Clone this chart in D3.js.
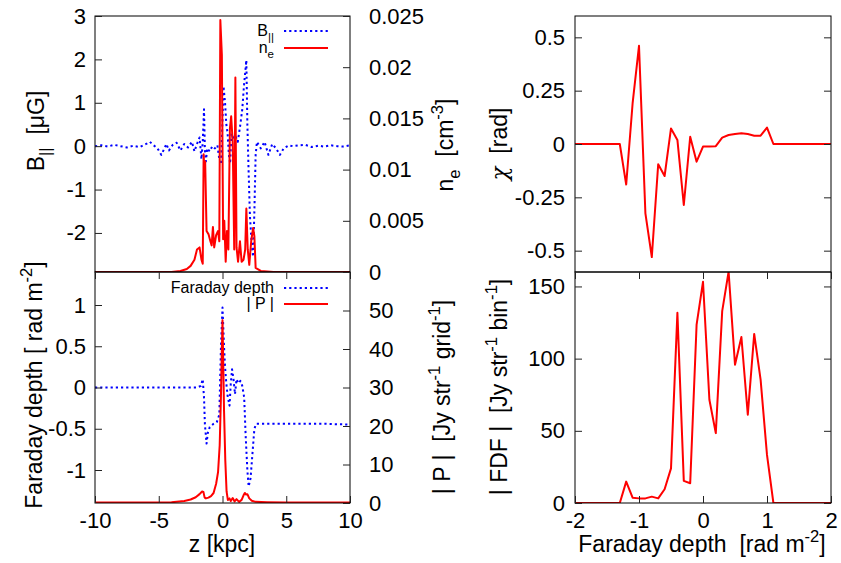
<!DOCTYPE html>
<html>
<head>
<meta charset="utf-8">
<script src="https://cdn.jsdelivr.net/npm/d3@7"></script>
<style>
  body { margin: 0; background: #fff; }
  text { font-family: "Liberation Sans", Arial, Helvetica, sans-serif; fill: #000; }
</style>
</head>
<body>
<script>
// ---- data ----
// top left: B_parallel [uG] and n_e [cm^-3] versus z [kpc]
const bParData = [
  [-10, 0], [-9.5, 0.02], [-9, -0.01], [-8.5, 0.03], [-8, 0], [-7.5, -0.03], [-7, 0.01], [-6.5, -0.02],
  [-6, 0.05], [-5.7, 0.1], [-5.4, 0.02], [-5.1, -0.05], [-4.8, -0.2], [-4.6, -0.08], [-4.4, 0.05],
  [-4.2, -0.1], [-3.9, 0.03], [-3.6, 0.08], [-3.3, -0.1], [-3.0, 0.05], [-2.7, -0.03], [-2.4, 0.1],
  [-2.2, -0.12], [-2.0, 0.05], [-1.8, 0.2], [-1.65, -0.3], [-1.55, 0.1], [-1.45, 0.85], [-1.38, -0.1],
  [-1.3, -0.35], [-1.2, -0.05], [-1.0, -0.12], [-0.8, 0.0], [-0.6, -0.05], [-0.4, 0.02], [-0.25, -0.3],
  [-0.12, -0.42], [0.0, 0.6], [0.08, 1.38], [0.2, 1.0], [0.3, 0.5], [0.4, 0.3], [0.5, -0.2], [0.6, -0.4],
  [0.7, 0.3], [0.85, 0.15], [1.0, 0.25], [1.2, 0.1], [1.4, 0.5], [1.55, 0.85], [1.7, 1.45], [1.87, 1.98],
  [1.95, 0.5], [2.05, -0.6], [2.15, -1.6], [2.3, -2.3], [2.4, -2.55], [2.5, -1.5], [2.6, -0.2],
  [2.7, 0.1], [3.0, -0.05], [3.3, 0.1], [3.6, -0.2], [3.9, 0.05], [4.2, -0.05], [4.5, -0.2], [4.8, -0.05],
  [5.2, 0.02], [5.5, 0.0], [6, 0.02], [6.5, 0.03], [7, -0.02], [7.5, 0.01], [8, -0.01], [8.5, 0.02],
  [9, 0], [9.5, -0.01], [10, 0.02]
];
const neData = [
  [-10, 0], [-4, 0], [-3.3, 0.0001], [-2.8, 0.0003], [-2.5, 0.0006], [-2.2, 0.0012], [-2.0, 0.0022],
  [-1.8, 0.0024], [-1.65, 0.0012], [-1.55, 0.0008], [-1.48, 0.0115], [-1.42, 0.0098], [-1.36, 0.0108],
  [-1.25, 0.0040], [-1.1, 0.0037], [-0.95, 0.0030], [-0.85, 0.0026], [-0.75, 0.0044], [-0.65, 0.0024],
  [-0.5, 0.0036], [-0.35, 0.0040], [-0.25, 0.0030], [-0.17, 0.0246], [-0.05, 0.0212], [0.05, 0.0032],
  [0.14, 0.0050], [0.25, 0.0010], [0.35, 0.0040], [0.46, 0.0022], [0.58, 0.0140], [0.68, 0.0152],
  [0.8, 0.0127], [0.92, 0.0022], [1.01, 0.0190], [1.1, 0.0024], [1.22, 0.0010], [1.37, 0.0030],
  [1.5, 0.0010], [1.65, 0.0012], [1.78, 0.0022], [1.87, 0.0062], [1.98, 0.0022], [2.1, 0.0007],
  [2.25, 0.0030], [2.4, 0.0043], [2.5, 0.0035], [2.6, 0.0004], [3, 0.0001], [4, 0], [10, 0]
];
// bottom left: Faraday depth [rad m^-2] and |P| versus z
const fdData = [
  [-10, 0], [-2.0, 0], [-1.7, 0.02], [-1.55, 0.1], [-1.45, -0.12], [-1.38, -0.45], [-1.25, -0.68],
  [-1.15, -0.55], [-1.0, -0.48], [-0.7, -0.44], [-0.45, -0.42], [-0.25, -0.33], [-0.12, 0.5],
  [0.0, 0.97], [0.12, 0.5], [0.2, 0.25], [0.3, 0.05], [0.4, -0.1], [0.55, -0.22], [0.65, 0.05],
  [0.75, 0.22], [0.85, 0.12], [0.98, -0.08], [1.1, 0.1], [1.25, 0.05], [1.4, 0.08], [1.55, 0.02],
  [1.7, -0.12], [1.82, -0.6], [1.95, -1.0], [2.05, -1.2], [2.2, -1.1], [2.35, -0.8], [2.5, -0.5],
  [2.65, -0.44], [5, -0.44], [8, -0.44], [10, -0.45]
];
const pData = [
  [-10, 0.1], [-5, 0.1], [-4, 0.2], [-3, 0.5], [-2.5, 0.9], [-2.1, 1.5], [-1.8, 2.3], [-1.6, 3.0],
  [-1.5, 2.9], [-1.4, 1.4], [-1.3, 1.2], [-1.1, 1.4], [-0.9, 1.8], [-0.7, 2.6], [-0.5, 5.0], [-0.35, 8],
  [-0.22, 15], [-0.12, 28], [-0.05, 40], [0.0, 47.5], [0.05, 38], [0.12, 24], [0.22, 11], [0.32, 3],
  [0.42, 0.8], [0.55, 1.2], [0.65, 0.5], [0.8, 1.3], [0.95, 0.4], [1.1, 1.0], [1.3, 0.3], [1.5, 0.8],
  [1.65, 2.0], [1.75, 2.6], [1.85, 2.2], [1.95, 2.3], [2.1, 1.2], [2.3, 0.6], [2.6, 0.3], [3.5, 0.2],
  [5, 0.1], [10, 0.1]
];
// right: chi [rad] and |FDF| versus Faraday depth
const chiData = [
  [-2, 0], [-1.3, 0], [-1.2, -0.19], [-1.1, 0.19], [-1.0, 0.46], [-0.9, -0.325], [-0.8, -0.53],
  [-0.7, -0.095], [-0.6, -0.15], [-0.5, 0.073], [-0.4, 0.019], [-0.3, -0.286], [-0.2, 0.034],
  [-0.1, -0.083], [0, -0.012], [0.1, -0.012], [0.2, -0.01], [0.3, 0.03], [0.4, 0.042], [0.5, 0.047],
  [0.6, 0.05], [0.7, 0.047], [0.8, 0.039], [0.9, 0.039], [1.0, 0.077], [1.1, 0], [2, 0]
];
const fdfData = [
  [-2, 0], [-1.3, 0], [-1.2, 14.8], [-1.1, 3.7], [-1.0, 3.2], [-0.9, 3.2], [-0.8, 4.4], [-0.7, 3.2],
  [-0.6, 9.5], [-0.5, 24], [-0.4, 131.7], [-0.3, 15.3], [-0.2, 13.7], [-0.1, 123.6], [0, 153.2],
  [0.1, 71.5], [0.2, 48.4], [0.3, 132.9], [0.4, 160.2], [0.5, 95.8], [0.6, 115], [0.7, 61.1],
  [0.8, 117.1], [0.9, 85.4], [1.0, 33.3], [1.1, 0], [2, 0]
];

const zTicks = [-10, -5, 0, 5, 10];
const bTicks = [-2, -1, 0, 1, 2, 3];
const neTicks = [0, 0.005, 0.01, 0.015, 0.02, 0.025];
const fdTicks = [-1, -0.5, 0, 0.5, 1];
const pTicks = [0, 10, 20, 30, 40, 50];
const phiTicks = [-2, -1, 0, 1, 2];
const chiTicks = [-0.5, -0.25, 0, 0.25, 0.5];
const fdfTicks = [0, 50, 100, 150];

// ---- layout ----
var width = 841, height = 563;
var tickFont = 22, titleFont = 23, keyFont = 16;
var fontFamily = "Liberation Sans, Arial, Helvetica, sans-serif";

var svg = d3.select("body").append("svg")
    .attr("width", width)
    .attr("height", height);

var z = d3.scaleLinear().domain([-10, 10]).range([95, 350]);
var phi = d3.scaleLinear().domain([-2, 2]).range([575, 831]);
var yB = d3.scaleLinear().domain([-2.9, 3]).range([272, 16]);
var yNe = d3.scaleLinear().domain([0, 0.025]).range([272, 16]);
var yFd = d3.scaleLinear().domain([-1.4, 1.4]).range([503, 272]);
var yP = d3.scaleLinear().domain([0, 60]).range([503, 272]);
var yChi = d3.scaleLinear().domain([-0.6, 0.6]).range([272, 16]);
var yFdf = d3.scaleLinear().domain([0, 160]).range([503, 272]);

var defs = svg.append("defs");
function clip(id, x0, x1, y0, y1) {
    defs.append("clipPath").attr("id", id)
      .append("rect").attr("x", x0).attr("y", y0)
        .attr("width", x1 - x0).attr("height", y1 - y0);
    return "url(#" + id + ")";
}

function curve(data, xs, ys, clipUrl, dotted) {
    var line = d3.line().x(d => xs(d[0])).y(d => ys(d[1]));
    svg.append("path")
        .datum(data)
        .attr("clip-path", clipUrl)
        .attr("d", line)
        .attr("fill", "none")
        .attr("stroke", dotted ? "#0000ff" : "#ff0000")
        .attr("stroke-width", 2)
        .attr("stroke-linejoin", "round")
        .attr("stroke-dasharray", dotted ? "2.2,3" : null);
}

// axis with inward ticks; labels optional
function axis(gen, scale, values, tx, ty, pad, fmt) {
    var a = gen(scale).tickValues(values).tickSizeInner(-7).tickSizeOuter(0).tickPadding(pad);
    a.tickFormat(fmt === null ? "" : (fmt || (d => String(d))));
    var g = svg.append("g")
        .attr("transform", "translate(" + tx + "," + ty + ")")
        .call(a);
    // d3 sets its own font on the group, override it after the call
    g.attr("font-size", tickFont).attr("font-family", fontFamily);
    g.select(".domain").remove();
    g.selectAll(".tick line").attr("stroke", "#222");
    return g;
}

// text with sub/superscripts: parts = [[str], [str, "sub"], [str, "sup"], [str, "greek"]]
function rich(parts, size, x, y, anchor, rotate) {
    var t = svg.append("text")
        .attr("font-size", size)
        .attr("text-anchor", anchor)
        .style("white-space", "pre")
        .attr("transform", "translate(" + x + "," + y + ")" + (rotate ? " rotate(-90)" : ""));
    var shift = 0;
    parts.forEach(function(p) {
        var small = p[1] === "sub" || p[1] === "sup";
        var target = p[1] === "sub" ? 0.3 * size : p[1] === "sup" ? -0.42 * size : 0;
        var s = t.append("tspan")
            .attr("dy", target - shift)
            .attr("font-size", small ? size * 0.72 : size)
            .text(p[0]);
        if (p[1] === "greek") s.style("font-family", "DejaVu Serif").style("font-style", "italic");
        shift = target;
    });
    return t;
}

// ---- curves ----
var cTL = clip("cTL", 95, 350, 16, 272);
var cBL = clip("cBL", 95, 350, 272, 503);
var cTR = clip("cTR", 575, 831, 16, 272);
var cBR = clip("cBR", 575, 831, 272, 503);

curve(bParData, z, yB, cTL, true);
curve(neData, z, yNe, cTL, false);
curve(fdData, z, yFd, cBL, true);
curve(pData, z, yP, cBL, false);
curve(chiData, phi, yChi, cTR, false);
curve(fdfData, phi, yFdf, cBR, false);

// ---- frames ----
[[95, 350, 16, 272], [95, 350, 272, 503], [575, 831, 16, 272], [575, 831, 272, 503]].forEach(function(r) {
    svg.append("rect")
        .attr("x", r[0]).attr("y", r[2])
        .attr("width", r[1] - r[0]).attr("height", r[3] - r[2])
        .attr("fill", "none").attr("stroke", "#000").attr("stroke-width", 1);
});

// ---- axes ----
var fmtNe = d => String(+d.toFixed(3));
axis(d3.axisLeft, yB, bTicks, 95, 0, 9);
axis(d3.axisRight, yNe, neTicks, 350, 0, 19, fmtNe);
axis(d3.axisLeft, yFd, fdTicks, 95, 0, 9);
axis(d3.axisRight, yP, pTicks, 350, 0, 19);
axis(d3.axisTop, z, zTicks, 0, 272, 0, null);
axis(d3.axisBottom, z, zTicks, 0, 503, 9);

axis(d3.axisLeft, yChi, chiTicks, 575, 0, 10);
axis(d3.axisRight, yChi, chiTicks, 831, 0, 0, null);
axis(d3.axisLeft, yFdf, fdfTicks, 575, 0, 10);
axis(d3.axisRight, yFdf, fdfTicks, 831, 0, 0, null);
axis(d3.axisTop, phi, phiTicks, 0, 272, 0, null);
axis(d3.axisBottom, phi, phiTicks, 0, 503, 9);

// ---- axis titles ----
rich([["B"], ["||", "sub"], ["  [\u03BCG]"]], titleFont, 44, 131, "middle", true);
rich([["Faraday depth [ rad m"], ["-2", "sup"], ["]"]], titleFont, 42, 385, "middle", true);
rich([["n"], ["e", "sub"], ["  [cm"], ["-3", "sup"], ["]"]], titleFont, 453, 145, "middle", true);
rich([["| P |  [Jy str"], ["-1", "sup"], [" grid"], ["-1", "sup"], ["]"]], titleFont, 450, 397, "middle", true);
rich([["\u03C7", "greek"], ["  [rad]"]], titleFont, 507, 144, "middle", true);
rich([["| FDF |  [Jy str"], ["-1", "sup"], [" bin"], ["-1", "sup"], ["]"]], titleFont, 507, 387, "middle", true);
rich([["z [kpc]"]], titleFont, 222, 552, "middle", false);
rich([["Faraday depth  [rad m"], ["-2", "sup"], ["]"]], titleFont, 702, 552, "middle", false);

// ---- legends ----
var legendTop = [
    {parts: [["B"], ["||", "sub"]], y: 31, dotted: true},
    {parts: [["n"], ["e", "sub"]], y: 48, dotted: false}
];
var legendBottom = [
    {parts: [["Faraday depth"]], y: 288, dotted: true},
    {parts: [["| P |"]], y: 304, dotted: false}
];
legendTop.concat(legendBottom).forEach(function(d) {
    rich(d.parts, keyFont, 274, d.y + 5, "end", false);
    svg.append("line")
        .attr("x1", 284).attr("x2", 328)
        .attr("y1", d.y).attr("y2", d.y)
        .attr("stroke", d.dotted ? "#0000ff" : "#ff0000")
        .attr("stroke-width", 2)
        .attr("stroke-dasharray", d.dotted ? "2.2,3" : null);
});
</script>
</body>
</html>
